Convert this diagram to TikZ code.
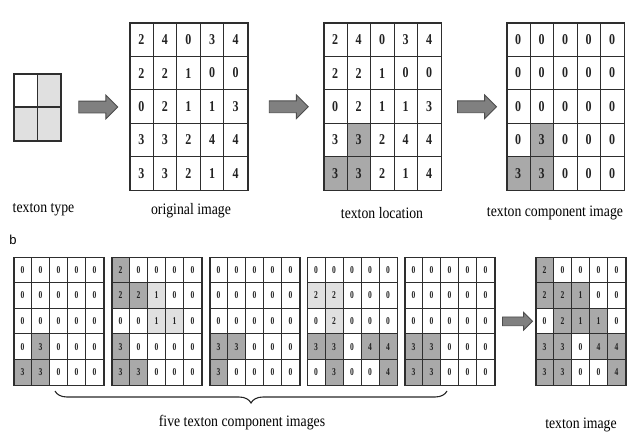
\documentclass[tikz,border=0pt]{standalone}
\usepackage{fontspec}
\setmainfont{Liberation Serif}
\newfontfamily\labelfont[FakeStretch=0.86]{Liberation Serif}
\newfontfamily\digitfont[FakeStretch=0.8]{Liberation Serif}
\newfontfamily\smalldigitfont[FakeStretch=0.72]{Liberation Serif}
\newfontfamily\panelfont{Liberation Sans}
\usetikzlibrary{shapes.arrows,decorations.pathreplacing,calc}

\definecolor{W}{HTML}{FFFFFF}
\definecolor{D}{HTML}{A9A9A9}
\definecolor{L}{HTML}{E0E0E0}
\definecolor{gridline}{HTML}{2E2E2E}
\definecolor{digitcol}{HTML}{222222}

% #1 name, #2 x, #3 y (top-left, y downwards), #4 cell width, #5 cell height,
% #6 cells per side, #7 cell font, #8 rows of value/colour pairs
\newcommand\texgrid[8]{%
  \foreach \rowdata [count=\r] in {#8} {
    \foreach \v/\s [count=\c] in \rowdata {
      \node[cell, fill=\s, font=#7, minimum width=#4pt, minimum height=#5pt,
            anchor=north west] (#1-\r-\c)
        at ({#2+(\c-1)*#4}, {-(#3+(\r-1)*#5)}) {\v};
    }
  }
  \node[frame, anchor=north west, minimum width={#6*#4pt},
        minimum height={#6*#5pt}] (#1) at (#2,-#3) {};
}

\tikzset{
  cell/.style={draw=gridline, line width=0.95pt, inner sep=0pt, text=digitcol},
  frame/.style={draw=gridline, line width=1.6pt, inner sep=0pt},
  lbl/.style={font=\fontsize{16}{17}\labelfont, text=black, inner sep=0pt},
  blockarrow/.style={single arrow, draw=black!70, fill=black!50, line width=0.8pt,
    inner sep=0pt, text height=#1, text depth=0pt, text width=0pt},
  brace/.style={decorate, decoration={brace, mirror, amplitude=12pt},
    line width=1.1pt, draw=black!85},
}

\newcommand\bigfont{\fontsize{15}{15}\digitfont\bfseries}
\newcommand\smallfont{\fontsize{10.5}{10.5}\smalldigitfont\bfseries}

\begin{document}
\begin{tikzpicture}[x=1pt, y=1pt]
\useasboundingbox (0,0) rectangle (628,-433);

% ---- panel a ----
\texgrid{ttype}{13}{73}{23.5}{33.5}{2}{\bigfont}{{/W,/L},{/L,/L}}

\texgrid{orig}{129}{22.5}{23.6}{33.4}{5}{\bigfont}{
  {2/W,4/W,0/W,3/W,4/W},{2/W,2/W,1/W,0/W,0/W},{0/W,2/W,1/W,1/W,3/W},
  {3/W,3/W,2/W,4/W,4/W},{3/W,3/W,2/W,1/W,4/W}}

\texgrid{loc}{323}{22.5}{23.5}{33.4}{5}{\bigfont}{
  {2/W,4/W,0/W,3/W,4/W},{2/W,2/W,1/W,0/W,0/W},{0/W,2/W,1/W,1/W,3/W},
  {3/W,3/D,2/W,4/W,4/W},{3/D,3/D,2/W,1/W,4/W}}

\texgrid{comp}{506}{22.5}{23.5}{33.4}{5}{\bigfont}{
  {0/W,0/W,0/W,0/W,0/W},{0/W,0/W,0/W,0/W,0/W},{0/W,0/W,0/W,0/W,0/W},
  {0/W,3/D,0/W,0/W,0/W},{3/D,3/D,0/W,0/W,0/W}}

\node[blockarrow=11pt, minimum height=39pt, single arrow head extend=6pt]
  (ar1) at ($(ttype.east)!0.5!(orig.west)$) {};
\node[blockarrow=11pt, minimum height=39pt, single arrow head extend=6pt]
  (ar2) at ($(orig.east)!0.5!(loc.west)$) {};
\node[blockarrow=11pt, minimum height=39pt, single arrow head extend=6pt]
  (ar3) at ($(loc.east)!0.5!(comp.west)$) {};

\node[lbl] (lbtype) at (43.5,-210) {texton type};
\node[lbl] (lborig) at (191,-211) {original image};
\node[lbl] (lbloc) at (382,-213) {texton location};
\node[lbl] (lbcomp) at (555,-213) {texton component image};

% ---- panel b ----
\node[font=\fontsize{13}{13}\panelfont, inner sep=0pt] (pb) at (13,-240) {b};

\texgrid{ca}{13}{256.5}{18}{25.6}{5}{\smallfont}{
  {0/W,0/W,0/W,0/W,0/W},{0/W,0/W,0/W,0/W,0/W},{0/W,0/W,0/W,0/W,0/W},
  {0/W,3/D,0/W,0/W,0/W},{3/D,3/D,0/W,0/W,0/W}}

\texgrid{cb}{111}{256.5}{18}{25.6}{5}{\smallfont}{
  {2/D,0/W,0/W,0/W,0/W},{2/D,2/D,1/L,0/W,0/W},{0/W,0/W,1/L,1/L,0/W},
  {3/D,0/W,0/W,0/W,0/W},{3/D,3/D,0/W,0/W,0/W}}

\texgrid{cc}{209}{256.5}{18}{25.6}{5}{\smallfont}{
  {0/W,0/W,0/W,0/W,0/W},{0/W,0/W,0/W,0/W,0/W},{0/W,0/W,0/W,0/W,0/W},
  {3/D,3/D,0/W,0/W,0/W},{3/D,0/W,0/W,0/W,0/W}}

\texgrid{cd}{306.5}{256.5}{18}{25.6}{5}{\smallfont}{
  {0/W,0/W,0/W,0/W,0/W},{2/L,2/L,0/W,0/W,0/W},{0/W,2/L,0/W,0/W,0/W},
  {3/D,3/D,0/W,4/D,4/D},{0/W,3/D,0/W,0/W,4/D}}

\texgrid{ce}{404}{256.5}{18}{25.6}{5}{\smallfont}{
  {0/W,0/W,0/W,0/W,0/W},{0/W,0/W,0/W,0/W,0/W},{0/W,0/W,0/W,0/W,0/W},
  {3/D,3/D,0/W,0/W,0/W},{3/D,3/D,0/W,0/W,0/W}}

\texgrid{timg}{535}{256.5}{18}{25.6}{5}{\smallfont}{
  {2/D,0/W,0/W,0/W,0/W},{2/D,2/D,1/D,0/W,0/W},{0/W,2/D,1/D,1/D,0/W},
  {3/D,3/D,0/W,4/D,4/D},{3/D,3/D,0/W,0/W,4/D}}

\node[blockarrow=8pt, minimum height=30pt, single arrow head extend=4.5pt]
  (ar4) at ($(ce.east)!0.5!(timg.west)$) {};

\coordinate (brL) at (55,-391);
\coordinate (brR) at (447,-391);
\draw[brace] (brL) -- (brR);

\node[lbl] (lbfive) at (242,-423) {five texton component images};
\node[lbl] (lbtimg) at (581,-425) {texton image};
\end{tikzpicture}
\end{document}
